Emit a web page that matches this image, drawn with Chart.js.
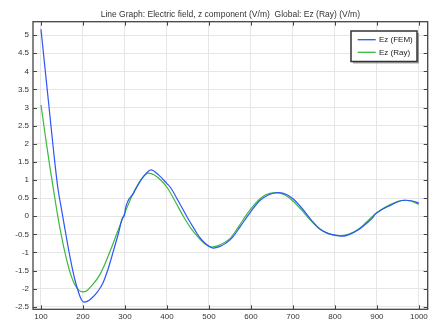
<!DOCTYPE html>
<html>
<head>
<meta charset="utf-8">
<script src="https://cdn.jsdelivr.net/npm/chart.js@4"></script>
<style>
  html, body { margin: 0; padding: 0; background: #fff; }
  #wrap { width: 433px; height: 324px; }
</style>
</head>
<body>
<div id="wrap"><canvas id="c" width="433" height="324"></canvas></div>
<script>
// ---- data ----
const titleText = "Line Graph: Electric field, z component (V/m)  Global: Ez (Ray) (V/m)";
const seriesNames = ["Ez (FEM)", "Ez (Ray)"];

const femX = [100,110,120,130,140,150,160,170,180,190,196,202,210,220,235,247,260,272,285,294,299,301,320,344,362,380,400,408,428,448,465,479,495,511,525,540,555,575,598,620,640,665,685,700,720,745,765,785,805,818,835,855,875,890,895,910,932,950,968,985,1000];
const femY = [5.16,4.04,2.92,1.8,0.8,0.12,-0.55,-1.18,-1.72,-2.12,-2.3,-2.37,-2.35,-2.27,-2.08,-1.86,-1.45,-0.98,-0.45,-0.05,0.03,0.2,0.63,1.09,1.28,1.14,0.9,0.8,0.4,-0.02,-0.35,-0.6,-0.79,-0.88,-0.84,-0.75,-0.6,-0.28,0.1,0.42,0.58,0.65,0.6,0.48,0.24,-0.12,-0.36,-0.48,-0.53,-0.55,-0.5,-0.38,-0.2,-0.04,0.05,0.17,0.3,0.4,0.44,0.42,0.36];

const rayX = [100,110,120,130,140,150,160,170,180,190,200,210,220,240,260,280,300,320,340,356,370,385,400,420,440,460,480,495,507,520,535,550,570,590,610,630,645,662,680,700,720,741,760,780,800,815,830,852,870,892,910,932,950,965,980,1000];
const rayY = [3.07,2.25,1.45,0.72,0.0,-0.62,-1.15,-1.58,-1.88,-2.04,-2.09,-2.05,-1.93,-1.62,-1.1,-0.5,0.1,0.64,1.04,1.19,1.14,1.0,0.8,0.4,-0.02,-0.38,-0.65,-0.8,-0.85,-0.82,-0.74,-0.62,-0.3,0.05,0.35,0.56,0.63,0.65,0.59,0.42,0.18,-0.1,-0.32,-0.46,-0.53,-0.54,-0.51,-0.39,-0.22,0.02,0.18,0.32,0.41,0.44,0.42,0.33];

const xTicks = [100,200,300,400,500,600,700,800,900,1000];
const yTicks = [-2.5,-2,-1.5,-1,-0.5,0,0.5,1,1.5,2,2.5,3,3.5,4,4.5,5];
const xRange = [81, 1021];
const yRange = [-2.57, 5.37];

const seriesColors = ["rgb(45,85,250)", "rgb(60,185,60)"];
const FONT = "'Liberation Sans', Arial, sans-serif";

// ---- plugins ----
const framePlugin = {
  id: 'frame',
  afterDraw(chart) {
    const ctx = chart.ctx, a = chart.chartArea;
    const xs = chart.scales.x, ys = chart.scales.y;
    ctx.save();
    // title
    ctx.fillStyle = '#333';
    ctx.font = '8.5px ' + FONT;
    ctx.textAlign = 'center';
    ctx.textBaseline = 'middle';
    ctx.fillText(titleText, (a.left + a.right) / 2, 14.5);
    // inward ticks
    ctx.strokeStyle = '#444';
    ctx.lineWidth = 1;
    const L = 4;
    ctx.beginPath();
    xs.ticks.forEach(t => {
      const px = Math.round(xs.getPixelForValue(t.value)) + 0.5;
      ctx.moveTo(px, a.bottom); ctx.lineTo(px, a.bottom - L);
      ctx.moveTo(px, a.top); ctx.lineTo(px, a.top + L);
    });
    ys.ticks.forEach(t => {
      const py = Math.round(ys.getPixelForValue(t.value)) + 0.5;
      ctx.moveTo(a.left, py); ctx.lineTo(a.left + L, py);
      ctx.moveTo(a.right, py); ctx.lineTo(a.right - L, py);
    });
    ctx.stroke();
    // frame
    ctx.strokeStyle = '#444';
    ctx.lineWidth = 1.3;
    ctx.strokeRect(a.left, a.top, a.right - a.left, a.bottom - a.top);
    // legend box
    const bx = 351, by = 31, bw = 66, bh = 30.5;
    ctx.fillStyle = 'rgba(0,0,0,0.35)';
    ctx.fillRect(bx + 2, by + 2, bw, bh);
    ctx.fillStyle = '#fff';
    ctx.fillRect(bx, by, bw, bh);
    ctx.strokeStyle = '#333';
    ctx.lineWidth = 1.5;
    ctx.strokeRect(bx, by, bw, bh);
    ctx.font = '8px ' + FONT;
    ctx.textAlign = 'left';
    ctx.textBaseline = 'middle';
    chart.data.datasets.forEach((ds, i) => {
      const ry = by + 8.7 + i * 12.6;
      ctx.strokeStyle = ds.borderColor;
      ctx.lineWidth = 1.3;
      ctx.beginPath();
      ctx.moveTo(bx + 6.7, ry); ctx.lineTo(bx + 24.7, ry);
      ctx.stroke();
      ctx.fillStyle = '#222';
      ctx.fillText(ds.label, bx + 28, ry + 0.5);
    });
    ctx.restore();
  }
};

const mk = (xa, ya) => xa.map((x, i) => ({ x: x, y: ya[i] }));

new Chart(document.getElementById('c'), {
  type: 'line',
  data: {
    datasets: [
      { label: seriesNames[0], data: mk(femX, femY), borderColor: seriesColors[0], borderWidth: 1.2, pointRadius: 0, tension: 0.3, cubicInterpolationMode: 'monotone', fill: false },
      { label: seriesNames[1], data: mk(rayX, rayY), borderColor: seriesColors[1], borderWidth: 1.2, pointRadius: 0, tension: 0.3, cubicInterpolationMode: 'monotone', fill: false }
    ]
  },
  options: {
    responsive: false,
    animation: false,
    events: [],
    layout: { padding: { top: 21.7, right: 5.3, left: 0, bottom: 0 } },
    plugins: { legend: { display: false }, title: { display: false }, tooltip: { enabled: false } },
    scales: {
      x: {
        type: 'linear', min: xRange[0], max: xRange[1],
        afterBuildTicks: s => { s.ticks = xTicks.map(v => ({ value: v })); },
        afterFit: s => { s.height = 14.7; },
        grid: { color: '#e6e6e6', lineWidth: 1, drawTicks: false },
        border: { display: false },
        ticks: { color: '#333', font: { size: 8, family: FONT }, padding: 3, maxRotation: 0, callback: v => String(v) }
      },
      y: {
        type: 'linear', min: yRange[0], max: yRange[1],
        afterBuildTicks: s => { s.ticks = yTicks.map(v => ({ value: v })); },
        afterFit: s => { s.width = 33; },
        grid: { color: '#e6e6e6', lineWidth: 1, drawTicks: false },
        border: { display: false },
        ticks: { color: '#333', font: { size: 8, family: FONT }, padding: 4, callback: v => String(v) }
      }
    }
  },
  plugins: [framePlugin]
});
</script>
</body>
</html>
